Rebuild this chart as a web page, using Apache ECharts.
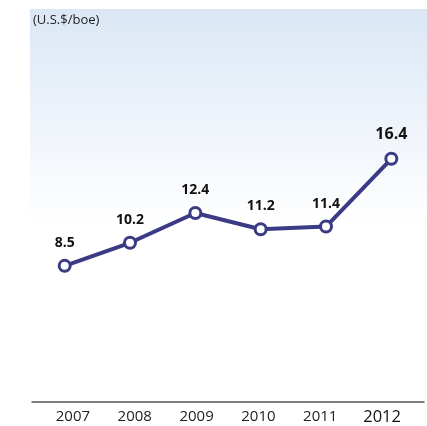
<!DOCTYPE html>
<html>
<head>
<meta charset="utf-8">
<script src="https://cdn.jsdelivr.net/npm/echarts@6/dist/echarts.min.js"></script>
<style>html,body{margin:0;padding:0;background:#fff;}#c{width:427px;height:426px;}</style>
</head>
<body>
<div id="c"></div>
<script>
var years = ['2007', '2008', '2009', '2010', '2011', '2012'];
var values = [8.5, 10.2, 12.4, 11.2, 11.4, 16.4];
var unitLabel = '(U.S.$/boe)';

var chart = echarts.init(document.getElementById('c'), null, {renderer: 'canvas'});
var lineColor = '#3b3a84';
var fontFam = '"Open Sans", "Noto Sans", sans-serif';
chart.setOption({
  animation: false,
  backgroundColor: '#ffffff',
  graphic: [
    {
      type: 'rect', z: -10, silent: true,
      shape: {x: 30, y: 9, width: 397, height: 215},
      style: {
        fill: new echarts.graphic.LinearGradient(0, 0, 0, 1, [
          {offset: 0, color: '#dbe7f5'},
          {offset: 1, color: '#ffffff'}
        ])
      }
    },
    {
      type: 'text', left: 33, top: 14,
      style: {text: unitLabel, fill: '#222', font: '13px ' + fontFam}
    }
  ],
  grid: [
    {left: 32, right: 3, top: 110, bottom: 45},
    {left: 42, right: 14, top: 110, bottom: 24}
  ],
  xAxis: [
    {
      type: 'category', gridIndex: 0,
      data: years,
      offset: 21,
      axisLine: {show: true, onZero: false, lineStyle: {color: '#555', width: 1.5}},
      axisTick: {show: false},
      axisLabel: {show: false},
      splitLine: {show: false}
    },
    {
      type: 'category', gridIndex: 1,
      data: years,
      axisLine: {show: false},
      axisTick: {show: false},
      axisLabel: {
        interval: 0,
        color: '#222', fontSize: 15, fontFamily: fontFam, margin: 8,
        formatter: function (v, i) { return i === years.length - 1 ? '{b|' + v + '}' : v; },
        rich: {b: {fontSize: 16.5, color: '#111', fontFamily: fontFam}}
      },
      splitLine: {show: false}
    }
  ],
  yAxis: [
    {type: 'value', gridIndex: 0, min: 0, max: 20, show: false},
    {type: 'value', gridIndex: 1, min: 0, max: 20, show: false}
  ],
  series: [{
    type: 'line',
    xAxisIndex: 0, yAxisIndex: 0,
    data: values,
    symbol: 'circle',
    symbolSize: 11,
    lineStyle: {color: lineColor, width: 4},
    itemStyle: {color: '#ffffff', borderColor: lineColor, borderWidth: 3},
    label: {
      show: true, position: 'top', distance: 9,
      color: '#111', fontSize: 14, fontWeight: 'bold', fontFamily: fontFam,
      formatter: function (p) {
        return p.dataIndex === values.length - 1 ? '{b|' + p.value + '}' : String(p.value);
      },
      rich: {b: {fontSize: 16, fontWeight: 'bold', color: '#111', fontFamily: fontFam}}
    }
  }]
});
</script>
</body>
</html>
